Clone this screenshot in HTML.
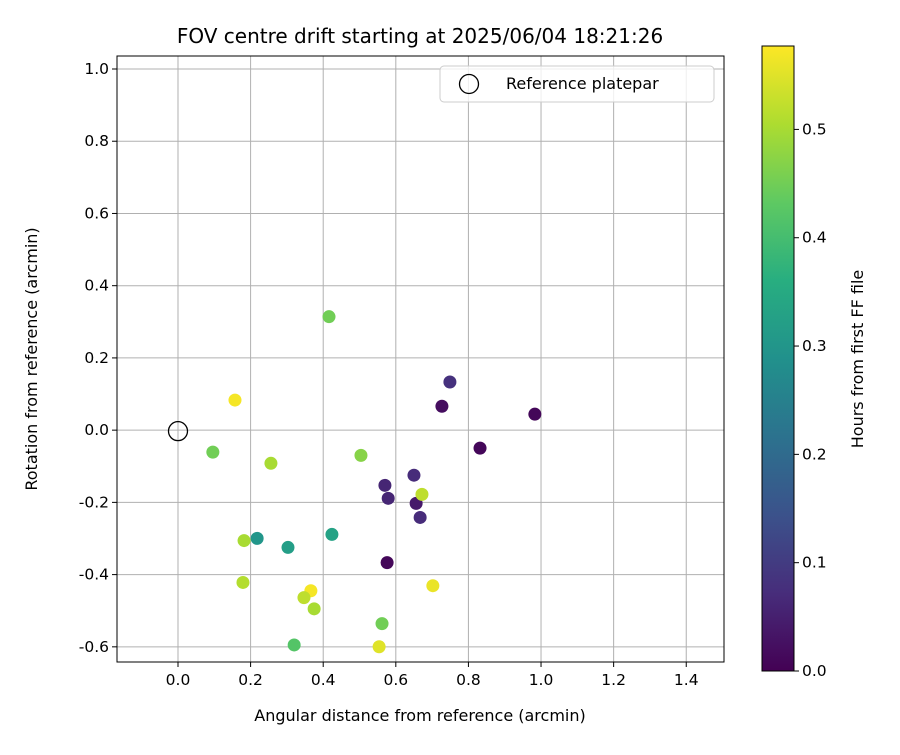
<!DOCTYPE html>
<html><head><meta charset="utf-8"><style>
body{margin:0;background:#fff;font-family:"Liberation Sans","DejaVu Sans",sans-serif;}
svg text{font-family:"DejaVu Sans","Liberation Sans",sans-serif;}
</style></head><body>
<svg id="chart" width="900" height="750" xmlns="http://www.w3.org/2000/svg">
<rect width="900" height="750" fill="#fff"/>
<defs><linearGradient id="vir" x1="0" y1="1" x2="0" y2="0">
<stop offset="0" stop-color="#440154"/><stop offset="0.125" stop-color="#472d7b"/><stop offset="0.25" stop-color="#3b528b"/><stop offset="0.375" stop-color="#2c728e"/><stop offset="0.5" stop-color="#21918c"/><stop offset="0.625" stop-color="#28ae80"/><stop offset="0.75" stop-color="#5ec962"/><stop offset="0.875" stop-color="#addc30"/><stop offset="1" stop-color="#fde725"/></linearGradient></defs>
<g id="grid"></g><g id="marks"></g><g id="axes"></g>
</svg>
<script>
const xs=[0.157,0.416,0.096,0.256,0.504,0.749,0.727,0.983,0.832,0.650,0.570,0.579,0.656,0.667,0.672,0.182,0.218,0.303,0.424,0.576,0.179,0.702,0.366,0.347,0.375,0.562,0.320,0.554];
const ys=[0.086,0.317,-0.058,-0.089,-0.067,0.136,0.069,0.047,-0.047,-0.122,-0.150,-0.186,-0.200,-0.239,-0.175,-0.303,-0.297,-0.322,-0.286,-0.364,-0.419,-0.428,-0.442,-0.461,-0.492,-0.533,-0.592,-0.597];
const hours=[0.57,0.45,0.45,0.50,0.47,0.08,0.02,0.01,0.01,0.07,0.06,0.06,0.04,0.07,0.52,0.50,0.30,0.32,0.33,0.01,0.51,0.56,0.57,0.52,0.50,0.45,0.42,0.55];
const xTicks=[0.0,0.2,0.4,0.6,0.8,1.0,1.2,1.4];
const yTicks=[-0.6,-0.4,-0.2,0.0,0.2,0.4,0.6,0.8,1.0];
const cTicks=[0.0,0.1,0.2,0.3,0.4,0.5];
const L=117,R=724,T=56,B=662,xmin=-0.168,xmax=1.504,ymin=-0.642,ymax=1.036;
const CX=762,CW=32,CT=46,CB=671,cmax=0.577;
const X=v=>L+(v-xmin)/(xmax-xmin)*(R-L);
const Y=v=>B-(v-ymin)/(ymax-ymin)*(B-T);
const CY=v=>CB-v/cmax*(CB-CT);
const NS="http://www.w3.org/2000/svg";
function mk(p,tag,a,txt){const e=document.createElementNS(NS,tag);for(const k in a)e.setAttribute(k,a[k]);if(txt!==undefined)e.textContent=txt;p.appendChild(e);return e;}
const vir=["#440154","#472d7b","#3b528b","#2c728e","#21918c","#28ae80","#5ec962","#addc30","#fde725"];
function hex(h){return[1,3,5].map(i=>parseInt(h.substr(i,2),16));}
function cmap(t){t=Math.max(0,Math.min(1,t))*8;const i=Math.min(7,Math.floor(t)),f=t-i;const a=hex(vir[i]),b=hex(vir[i+1]);return"rgb("+a.map((v,k)=>Math.round(v+(b[k]-v)*f)).join(",")+")";}
const g=document.getElementById('grid'),m=document.getElementById('marks'),ax=document.getElementById('axes');
xTicks.forEach(t=>{const x=X(t);
let l=mk(g,'line',{x1:x,x2:x,y1:T,y2:B,stroke:'#b0b0b0','stroke-width':1});


mk(ax,'line',{x1:x,x2:x,y1:B,y2:B+5,stroke:'#000'});
let tx=mk(ax,'text',{x:x,y:B+23,'text-anchor':'middle','font-size':'15.5'},t.toFixed(1));

});
yTicks.forEach(t=>{const y=Y(t);
let l=mk(g,'line',{x1:L,x2:R,y1:y,y2:y,stroke:'#b0b0b0','stroke-width':1});


mk(ax,'line',{x1:L-5,x2:L,y1:y,y2:y,stroke:'#000'});
let tx=mk(ax,'text',{x:L-8,y:y+5,'text-anchor':'end','font-size':'15.5'},t.toFixed(1));

});
xs.forEach((v,i)=>{let c=mk(m,'circle',{cx:X(v),cy:Y(ys[i])+1,r:6.5,fill:cmap(hours[i]/cmax)});

});
let ref=mk(m,'circle',{cx:X(0),cy:Y(0)+1,r:9.5,fill:'none',stroke:'#000','stroke-width':1.3});


let fr=mk(ax,'rect',{x:L,y:T,width:R-L,height:B-T,fill:'none',stroke:'#000','stroke-width':1});


let lg=mk(ax,'g',{});


mk(lg,'rect',{x:440,y:66,width:274,height:36,rx:4,fill:'#fff',stroke:'#ccc','fill-opacity':0.8});
mk(lg,'circle',{cx:469,cy:84,r:9.5,fill:'none',stroke:'#000','stroke-width':1.3});
mk(lg,'text',{x:506,y:89,'font-size':'16'},'Reference platepar');
let t1=mk(ax,'text',{x:420,y:43,'text-anchor':'middle','font-size':'20'},'FOV centre drift starting at 2025/06/04 18:21:26');


let t2=mk(ax,'text',{x:420,y:721,'text-anchor':'middle','font-size':'16'},'Angular distance from reference (arcmin)');


let t3=mk(ax,'text',{x:37,y:359,'text-anchor':'middle','font-size':'16',transform:'rotate(-90 37 359)'},'Rotation from reference (arcmin)');


let cb=mk(ax,'rect',{x:CX,y:CT,width:CW,height:CB-CT,fill:'url(#vir)',stroke:'#000'});


cTicks.forEach(t=>{const y=CY(t);
mk(ax,'line',{x1:CX+CW,x2:CX+CW+5,y1:y,y2:y,stroke:'#000'});
let tx=mk(ax,'text',{x:CX+CW+8,y:y+5,'font-size':'15.5'},t.toFixed(1));

});
let t4=mk(ax,'text',{x:863,y:359,'text-anchor':'middle','font-size':'16',transform:'rotate(-90 863 359)'},'Hours from first FF file');


</script>
</body></html>
